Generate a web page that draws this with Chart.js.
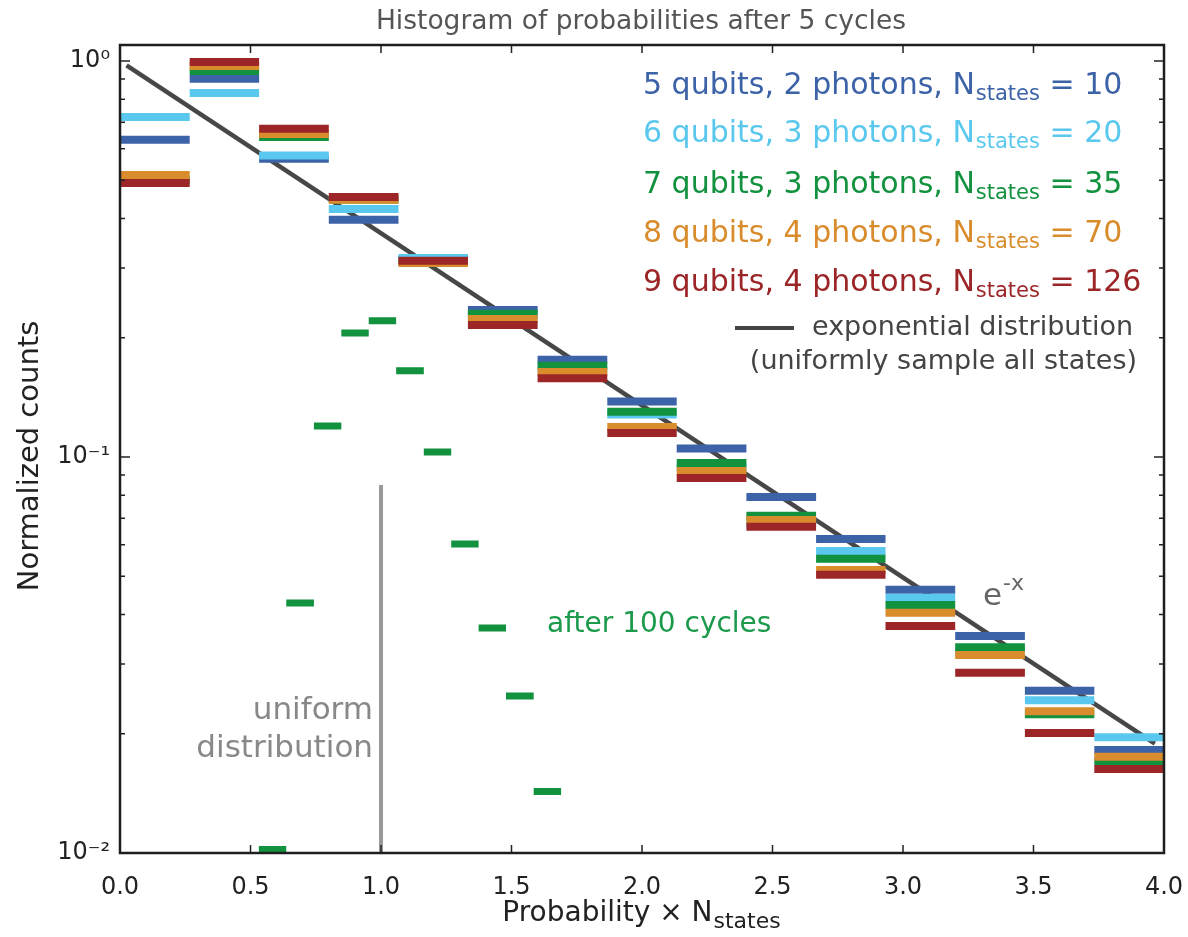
<!DOCTYPE html>
<html><head><meta charset="utf-8">
<script src="https://cdn.jsdelivr.net/npm/chart.js@4.4.1/dist/chart.umd.min.js"></script>
<style>html,body{margin:0;padding:0;background:#fff;} #wrap{width:1188px;height:937px;position:relative;}</style>
</head><body><div id="wrap"><canvas id="c" width="1188" height="937"></canvas></div>
<script>
// ---- data ----
const binLeft  = [0, 0.267, 0.533, 0.8, 1.067, 1.333, 1.6, 1.867, 2.133, 2.4, 2.667, 2.933, 3.2, 3.467, 3.733];
const binRight = [0.267, 0.533, 0.8, 1.067, 1.333, 1.6, 1.867, 2.133, 2.4, 2.667, 2.933, 3.2, 3.467, 3.733, 4.0];
const q5 = [0.632, 0.901, 0.566, 0.397, 0.315, 0.235, 0.176, 0.138, 0.105, 0.0792, 0.0621, 0.0462, 0.0353, 0.0257, 0.0182];
const q6 = [0.722, 0.830, 0.577, 0.423, 0.318, 0.226, 0.166, 0.128, 0.094, 0.068, 0.0579, 0.0441, 0.0322, 0.0243, 0.0196];
const q7 = [0.500, 0.943, 0.643, 0.447, 0.311, 0.230, 0.170, 0.130, 0.0966, 0.0710, 0.0553, 0.0423, 0.0331, 0.0224, 0.0170];
const q8 = [0.515, 0.971, 0.654, 0.446, 0.309, 0.223, 0.164, 0.119, 0.0922, 0.0693, 0.0518, 0.0404, 0.0316, 0.0228, 0.0175];
const q9 = [0.492, 0.994, 0.674, 0.453, 0.313, 0.2155, 0.158, 0.115, 0.0885, 0.0666, 0.0504, 0.0374, 0.0285, 0.0201, 0.0163];
const lateLeft  = [0.532, 0.637, 0.743, 0.848, 0.953, 1.058, 1.164, 1.269, 1.374, 1.479, 1.585];
const lateRight = [0.637, 0.743, 0.848, 0.953, 1.058, 1.164, 1.269, 1.374, 1.479, 1.585, 1.690];
const late100   = [0.0102, 0.0428, 0.1198, 0.2056, 0.2207, 0.165, 0.103, 0.0603, 0.0370, 0.0249, 0.0143];
const expX = [0.025, 3.965];
const expY = [0.975, 0.0189];
const uniformX = [1.0, 1.0];
const uniformY = [0.01, 0.085];
const xTickValues = [0, 0.5, 1.0, 1.5, 2.0, 2.5, 3.0, 3.5, 4.0];
const yDecades = [0.01, 0.1, 1];
const yDecadeLabels = ['10⁻²', '10⁻¹', '10⁰'];
const seriesNames = [
  ['5 qubits, 2 photons, N', 'states', ' = 10'],
  ['6 qubits, 3 photons, N', 'states', ' = 20'],
  ['7 qubits, 3 photons, N', 'states', ' = 35'],
  ['8 qubits, 4 photons, N', 'states', ' = 70'],
  ['9 qubits, 4 photons, N', 'states', ' = 126']
];

// ---- style ----
const C_BLUE = '#3c62a8', C_LBLUE = '#5ac8ee', C_GREEN = '#12913f', C_ORANGE = '#d98c2c', C_RED = '#9b2527';
const seriesColors = [C_BLUE, C_LBLUE, C_GREEN, C_ORANGE, C_RED];
const FONT = '"DejaVu Sans", sans-serif';

function segs(left, right, vals) {
  const out = [];
  for (let i = 0; i < vals.length; i++) {
    if (vals[i] == null) continue;
    out.push({x: left[i], y: vals[i]}, {x: right[i], y: vals[i]}, {x: right[i], y: null});
  }
  return out;
}
function pts(xs, ys) { return xs.map((x, i) => ({x, y: ys[i]})); }
function barSet(data, color, order, w) {
  return {data, borderColor: color, backgroundColor: color, borderWidth: w, borderCapStyle: 'butt',
          pointRadius: 0, spanGaps: false, tension: 0, fill: false, order};
}

const yMinorTicks = [];
[0.01, 0.1].forEach(d => { for (let k = 1; k <= 9; k++) yMinorTicks.push(+(d * k).toPrecision(3)); });
yMinorTicks.push(1);

function drawSub(ctx, main, sub, tail, x, y, fs, ss, color, fam, align) {
  ctx.save();
  ctx.fillStyle = color; ctx.textBaseline = 'middle'; ctx.textAlign = 'left';
  ctx.font = fs + 'px ' + fam; const w1 = ctx.measureText(main).width; const w3 = ctx.measureText(tail).width;
  ctx.font = ss + 'px ' + fam; const w2 = ctx.measureText(sub).width;
  let x0 = align === 'center' ? x - (w1 + w2 + w3) / 2 : x;
  ctx.font = fs + 'px ' + fam; ctx.fillText(main, x0, y);
  ctx.font = ss + 'px ' + fam; ctx.fillText(sub, x0 + w1 + 1, y + fs * 0.3);
  ctx.font = fs + 'px ' + fam; ctx.fillText(tail, x0 + w1 + w2 + 1, y);
  ctx.restore();
}

const overlay = {
  id: 'overlay',
  afterDraw(chart) {
    const ctx = chart.ctx, a = chart.chartArea, xs = chart.scales.x, ys = chart.scales.y;
    ctx.save();
    // inward ticks
    ctx.strokeStyle = '#222'; ctx.lineWidth = 1.5;
    xTickValues.forEach(v => {
      const px = xs.getPixelForValue(v);
      ctx.beginPath(); ctx.moveTo(px, a.bottom); ctx.lineTo(px, a.bottom - 8);
      ctx.moveTo(px, a.top); ctx.lineTo(px, a.top + 8); ctx.stroke();
    });
    yMinorTicks.forEach(v => {
      const py = ys.getPixelForValue(v);
      const len = yDecades.includes(v) ? 10 : 5;
      ctx.beginPath(); ctx.moveTo(a.left, py); ctx.lineTo(a.left + len, py);
      ctx.moveTo(a.right, py); ctx.lineTo(a.right - len, py); ctx.stroke();
    });
    // frame
    ctx.lineWidth = 2.5; ctx.strokeStyle = '#1e1e1e';
    ctx.strokeRect(a.left, a.top, a.right - a.left, a.bottom - a.top);

    // title
    ctx.fillStyle = '#555'; ctx.font = '26.5px ' + FONT; ctx.textAlign = 'center'; ctx.textBaseline = 'middle';
    ctx.fillText('Histogram of probabilities after 5 cycles', 641, 22);

    // y axis title
    ctx.save(); ctx.translate(30, 456); ctx.rotate(-Math.PI / 2);
    ctx.fillStyle = '#222'; ctx.font = '29px ' + FONT; ctx.textAlign = 'center'; ctx.textBaseline = 'middle';
    ctx.fillText('Normalized counts', 0, 0); ctx.restore();

    // x axis title with subscript
    drawSub(ctx, 'Probability \u00d7 N', 'states', '', 641, 914, 28, 22, '#222', FONT, 'center');

    // legend
    const legY = [86, 134, 185, 234, 283];
    seriesNames.forEach((s, i) => drawSub(ctx, s[0], s[1], s[2], 643, legY[i], 30, 21, seriesColors[i], FONT, 'left'));
    ctx.strokeStyle = '#444'; ctx.lineWidth = 4;
    ctx.beginPath(); ctx.moveTo(735, 328); ctx.lineTo(794, 328); ctx.stroke();
    ctx.fillStyle = '#444'; ctx.font = '27px ' + FONT; ctx.textAlign = 'left'; ctx.textBaseline = 'middle';
    ctx.fillText('exponential distribution', 812, 328);
    ctx.textAlign = 'right';
    ctx.fillText('(uniformly sample all states)', 1137, 362);

    // annotations
    ctx.fillStyle = '#666'; ctx.font = '31px ' + FONT; ctx.textAlign = 'left';
    ctx.fillText('e', 983, 597);
    ctx.font = '22px ' + FONT; ctx.fillText('-x', 1003, 584);
    ctx.fillStyle = '#1a9a4a'; ctx.font = '28px ' + FONT;
    ctx.fillText('after 100 cycles', 547, 625);
    ctx.fillStyle = '#888'; ctx.font = '31px ' + FONT; ctx.textAlign = 'right';
    ctx.fillText('uniform', 373, 711);
    ctx.fillText('distribution', 373, 749);
    ctx.restore();
  }
};

new Chart(document.getElementById('c'), {
  type: 'line',
  data: {
    datasets: [
      barSet(segs(binLeft, binRight, q9), C_RED, 1, 8),
      barSet(segs(binLeft, binRight, q8), C_ORANGE, 2, 8),
      barSet(segs(binLeft, binRight, q7), C_GREEN, 3, 8),
      barSet(segs(binLeft, binRight, q6), C_LBLUE, 4, 8),
      barSet(segs(binLeft, binRight, q5), C_BLUE, 5, 8),
      barSet(segs(lateLeft, lateRight, late100), C_GREEN, 6, 7),
      barSet(pts(expX, expY), '#474747', 7, 4.5),
      barSet(pts(uniformX, uniformY), '#999999', 8, 4)
    ]
  },
  options: {
    responsive: false, animation: false, devicePixelRatio: 1,
    layout: {padding: {top: 45, right: 24, left: 0, bottom: 0}},
    plugins: {legend: {display: false}, tooltip: {enabled: false}, title: {display: false}},
    scales: {
      x: {
        type: 'linear', min: 0, max: 4, position: 'bottom',
        grid: {display: false, drawTicks: false}, border: {display: false},
        afterBuildTicks: s => { s.ticks = xTickValues.map(v => ({value: v})); },
        ticks: {callback: v => Number(v).toFixed(1), font: {family: FONT, size: 24}, color: '#222', padding: 20, maxRotation: 0, autoSkip: false},
        afterFit: s => { s.height = 84; s.paddingLeft = 0; s.paddingRight = 0; }
      },
      y: {
        type: 'logarithmic', min: 0.01, max: 1.097, position: 'left',
        grid: {display: false, drawTicks: false}, border: {display: false},
        afterBuildTicks: s => { s.ticks = yDecades.map(v => ({value: v})); },
        ticks: {callback: v => { const i = yDecades.findIndex(d => Math.abs(d - v) < 1e-9); return i >= 0 ? yDecadeLabels[i] : ''; },
                font: {family: FONT, size: 24}, color: '#222', padding: 10, autoSkip: false},
        afterFit: s => { s.width = 120; s.paddingTop = 0; s.paddingBottom = 0; }
      }
    }
  },
  plugins: [overlay]
});
</script></body></html>
